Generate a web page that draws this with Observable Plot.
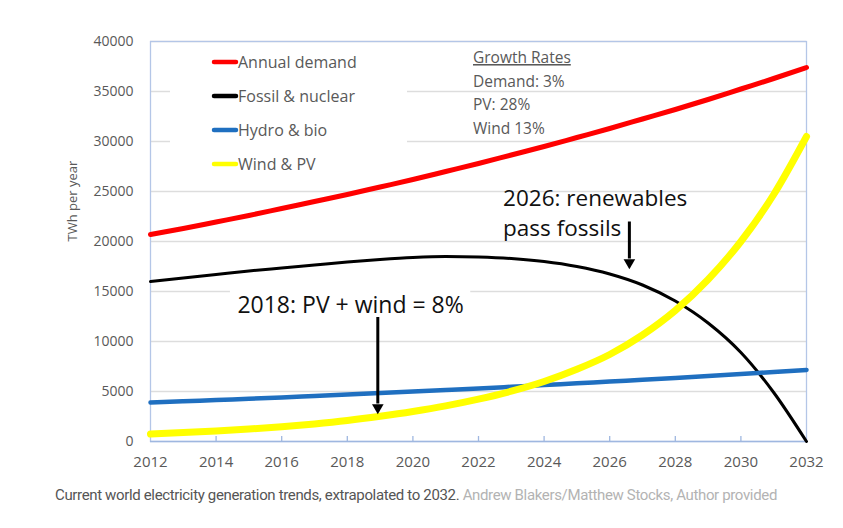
<!DOCTYPE html>
<html>
<head>
<meta charset="utf-8">
<script src="https://cdn.jsdelivr.net/npm/d3@7"></script>
<script src="https://cdn.jsdelivr.net/npm/@observablehq/plot@0.6"></script>
<style>
  body { margin: 0; background: #fff; }
  #chart { width: 843px; }
  #caption { margin: 7px 0 0 55px; font-family: Roboto, sans-serif; font-size: 15px; line-height: 20px; color: #555; white-space: nowrap; letter-spacing: -0.35px; }
  #caption .credit { color: #b3b3b3; }
</style>
</head>
<body>
<div id="chart"></div>
<div id="caption">Current world electricity generation trends, extrapolated to 2032. <span class="credit">Andrew Blakers/Matthew Stocks, Author provided</span></div>
<script>
const years = d3.range(2012, 2033);
const demand  = [20700,21300,21950,22600,23300,24000,24700,25450,26200,27000,27800,28650,29500,30400,31300,32250,33200,34200,35250,36300,37400];
const fossil  = [16000,16350,16700,17050,17350,17650,17950,18200,18400,18500,18450,18300,18000,17500,16750,15650,14050,11850,8900,4900,0];
const hydro   = [3900,4020,4150,4270,4400,4550,4700,4850,5000,5150,5300,5470,5650,5820,6000,6170,6350,6550,6750,6950,7150];
const windpv  = [750,890,1050,1250,1480,1760,2100,2520,3000,3560,4230,5030,6000,7220,8700,10650,13100,16200,20000,24700,30500];

const seriesNames = ["Annual demand", "Fossil & nuclear", "Hydro & bio", "Wind & PV"];
const seriesValues = [demand, fossil, hydro, windpv];
const seriesColors = ["#ff0000", "#000000", "#1f6fc0", "#ffff00"];
const seriesWidths = [5, 3, 4.5, 7];

const yTicks = d3.range(0, 40001, 5000);
const xTicks = d3.range(2012, 2033, 2);

const growthLines = ["Growth Rates", "Demand: 3%", "PV: 28%", "Wind 13%"];

// annotations: label lines, anchor year/value, arrow year, arrow start/end value
const notes = [
  {lines: ["2018: PV + wind = 8%"], x: 2014.65, y: 13550, ax: 2018.93, ay1: 12450, ay2: 2800, size: 23},
  {lines: ["2026: renewables", "pass fossils"], x: 2022.75, y: 24300, ax: 2026.6, ay1: 22000, ay2: 17300, size: 22.5}
];

const rows = [];
seriesNames.forEach((name, i) => years.forEach((yr, j) => rows.push({series: name, year: yr, value: seriesValues[i][j]})));

const font = "'Open Sans', sans-serif";

// white boxes behind the legend and the first note (they hide gridlines, as in the original)
function boxesMark(index, scales, values, dim) {
  const g = d3.create("svg:g").attr("fill", "#fff");
  g.append("rect").attr("x", dim.marginLeft + 20).attr("y", dim.marginTop + 4).attr("width", 237).attr("height", 132);
  const ctx = document.createElement("canvas").getContext("2d");
  const n = notes[0];
  ctx.font = `${n.size}px 'Open Sans'`;
  const w = ctx.measureText(n.lines[0]).width;
  const x0 = scales.x(n.x), y0 = scales.y(n.y);
  g.append("rect").attr("x", x0 - 7).attr("y", y0 - 20).attr("width", w + 14).attr("height", 34);
  return g.node();
}

// legend and growth-rate text as a custom mark positioned inside the frame
function legendMark(index, scales, values, dim) {
  const g = d3.create("svg:g").attr("text-anchor", "start");
  seriesNames.forEach((name, i) => {
    const cy = dim.marginTop + 21 + i * 34;
    g.append("line").attr("x1", dim.marginLeft + 64).attr("x2", dim.marginLeft + 86)
      .attr("y1", cy).attr("y2", cy).attr("stroke", seriesColors[i])
      .attr("stroke-width", 4.5).attr("stroke-linecap", "round");
    g.append("text").attr("x", dim.marginLeft + 88).attr("y", cy + 5.5)
      .attr("font-family", font).attr("font-size", 16).attr("fill", "#595959").text(name);
  });
  growthLines.forEach((t, i) => {
    const tx = g.append("text").attr("x", dim.marginLeft + 323).attr("y", dim.marginTop + 22 + i * 23.5)
      .attr("font-family", font).attr("font-size", 15.5).attr("fill", "#595959").text(t);
    if (i === 0) tx.attr("text-decoration", "underline");
  });
  return g.node();
}

const noteTextMarks = notes.flatMap(n => n.lines.map((line, k) =>
  Plot.text([n], {x: "x", y: "y", text: () => line, textAnchor: "start", lineAnchor: "middle",
    dy: k * 30, fontSize: n.size, fill: "#111", fontFamily: font})));

const chart = Plot.plot({
  width: 843,
  height: 478,
  marginTop: 41,
  marginBottom: 37,
  marginLeft: 150,
  marginRight: 37,
  style: {fontFamily: font, color: "#595959", background: "#fff"},
  x: {domain: [2012, 2032]},
  y: {domain: [0, 40000]},
  marks: [
    Plot.ruleY(yTicks.filter(d => d > 0), {stroke: "#dddddd", strokeWidth: 1.5}),
    boxesMark,
    Plot.frame({stroke: "#b4c6e7", strokeWidth: 1.3}),
    Plot.ruleY([0], {stroke: "#9fb7e0", strokeWidth: 1.5}),
    Plot.ruleX(xTicks.slice(1, -1), {y1: 0, y2: 500, stroke: "#9fb7e0", strokeWidth: 1.3}),
    Plot.axisX({ticks: xTicks, tickSize: 0, tickPadding: 15, tickFormat: d => String(d), fontSize: 15, label: null}),
    Plot.axisY({ticks: yTicks, tickSize: 0, tickPadding: 17, tickFormat: d => String(d), fontSize: 14, label: null}),
    Plot.text(["TWh per year"], {frameAnchor: "left", dx: -78, rotate: -90, fontSize: 13, fill: "#595959", lineAnchor: "middle"}),
    ...seriesNames.map((name, i) => Plot.line(rows.filter(r => r.series === name), {
      x: "year", y: "value", stroke: seriesColors[i], strokeWidth: seriesWidths[i], curve: "monotone-x"})),
    legendMark,
    ...noteTextMarks,
    Plot.link(notes, {x1: "ax", x2: "ax", y1: "ay1", y2: d => d.ay2 + 1000, stroke: "#000", strokeWidth: 3}),
    Plot.dot(notes, {x: "ax", y: d => d.ay2 + 600, symbol: "triangle", r: 4.3, rotate: 180, fill: "#000", stroke: "none"})
  ]
});
document.getElementById("chart").appendChild(chart);
</script>
</body>
</html>
